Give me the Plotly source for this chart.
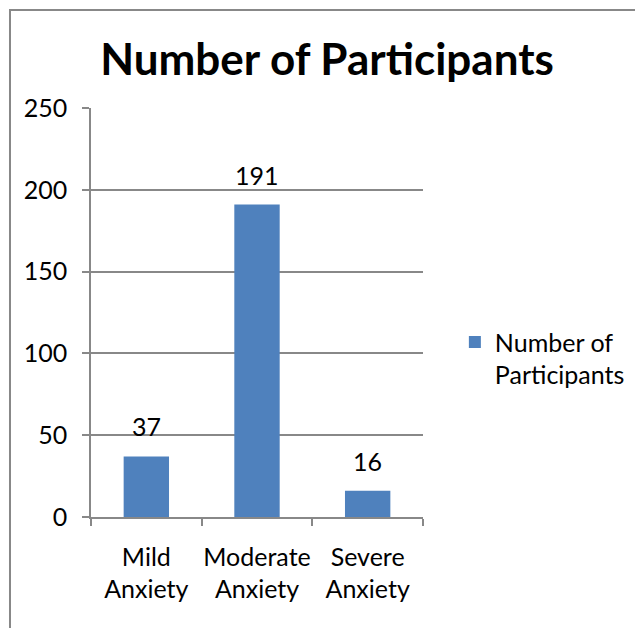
import plotly.graph_objects as go

categories = ["Mild<br>Anxiety", "Moderate<br>Anxiety", "Severe<br>Anxiety"]
values = [37, 191, 16]
series_name = "Number of<br>Participants"
title_text = "Number of Participants"
y_ticks = [0, 50, 100, 150, 200, 250]

FONT = "Lato, 'Open Sans', sans-serif"
GRAY = "#888888"
BAR = "#4F81BD"

fig = go.Figure()
fig.add_trace(go.Bar(
    x=categories, y=values, name=series_name,
    marker=dict(color=BAR, line=dict(width=0)),
    showlegend=True,
))

for c, v in zip(categories, values):
    fig.add_annotation(x=c, y=v, text=str(v), showarrow=False,
                       yanchor="bottom", yshift=13,
                       font=dict(family=FONT, size=25, color="black"))

# chart-area frame (left and top edges visible)
fig.add_shape(type="rect", xref="paper", yref="paper",
              x0=-0.244, x1=2.0, y0=-0.6, y1=1.2396,
              line=dict(color=GRAY, width=2), fillcolor="rgba(0,0,0,0)", layer="below")

fig.update_layout(
    width=635, height=628,
    margin=dict(l=91, r=212, t=108, b=111, autoexpand=False),
    paper_bgcolor="white", plot_bgcolor="white",
    bargap=0.59,
    font=dict(family=FONT, size=25, color="black"),
    title=dict(text="<b>" + title_text + "</b>", font=dict(family=FONT, size=44, color="black"),
               x=0.711, xref="paper", xanchor="center",
               y=1 - 60 / 628, yref="container", yanchor="middle"),
    showlegend=True,
    legend=dict(x=1.096, xanchor="left", y=0.388, yanchor="middle", valign="top",
                font=dict(family=FONT, size=25, color="black"),
                bgcolor="rgba(0,0,0,0)", tracegroupgap=0),
)

fig.update_xaxes(showline=True, linecolor=GRAY, linewidth=1.5, automargin=False, tickangle=0,
                 ticks="outside", tickson="boundaries", ticklen=7, tickcolor=GRAY, tickwidth=1.5,
                 showgrid=False, ticklabelstandoff=17,
                 tickfont=dict(family=FONT, size=25, color="black"))
fig.update_yaxes(range=[0, 250], tickvals=y_ticks, showline=True, linecolor=GRAY, linewidth=1.5,
                 automargin=False,
                 ticks="outside", ticklen=7, tickcolor=GRAY, tickwidth=1.5,
                 showgrid=True, gridcolor=GRAY, gridwidth=1.5, zeroline=False,
                 ticklabelstandoff=10,
                 tickfont=dict(family=FONT, size=25, color="black"))

fig.write_html("out.html")
